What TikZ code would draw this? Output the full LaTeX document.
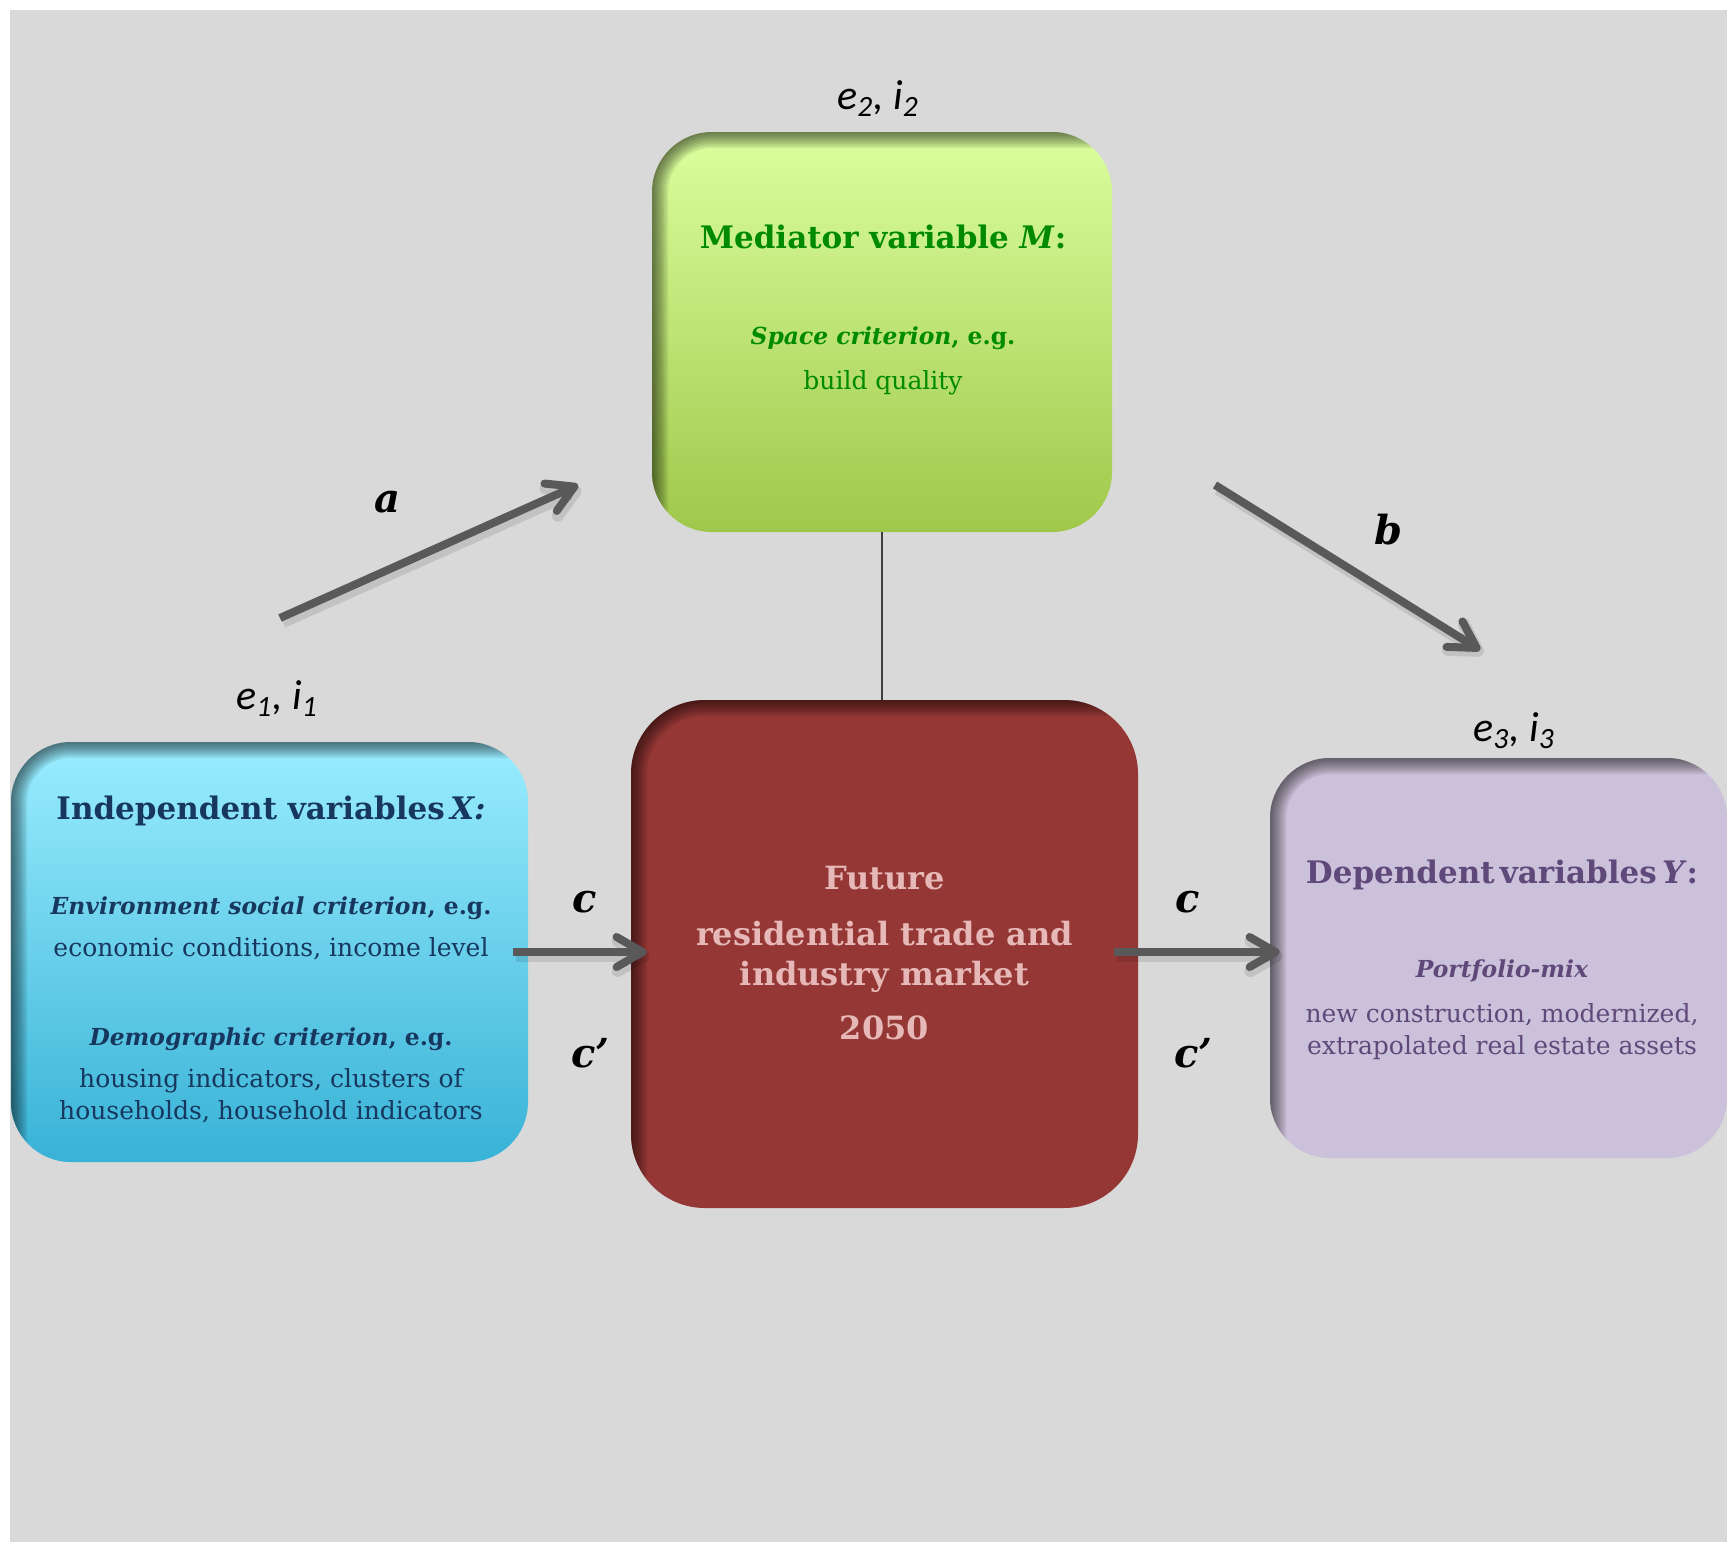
\documentclass[tikz,border=0pt]{standalone}
\usepackage{fontspec}
\setmainfont{DejaVu Serif}
\newfontfamily\calib{Carlito}
\usetikzlibrary{calc}
\usetikzlibrary{arrows.meta}

\definecolor{bgray}{HTML}{D9D9D9}
\definecolor{cyantop}{HTML}{9AEDFF}
\definecolor{cyanbot}{HTML}{38B2D6}
\definecolor{navy}{HTML}{17375E}
\definecolor{limetop}{HTML}{DBFF9E}
\definecolor{limebot}{HTML}{9FC84B}
\definecolor{leafgreen}{HTML}{008A00}
\definecolor{brick}{HTML}{953735}
\definecolor{rosetext}{HTML}{E6B9B8}
\definecolor{lilac}{HTML}{CCC1DA}
\definecolor{plum}{HTML}{5F497A}
\definecolor{arrowgray}{HTML}{595959}

\tikzset{
  box/.style={rounded corners=#1, inner sep=0pt, path picture={
      \foreach \w in {4,8,...,32}
        \draw[line width=\w*0.5pt, black, opacity=0.08, rounded corners=#1]
          (path picture bounding box.north west) rectangle
          ([shift={(300pt,-300pt)}]path picture bounding box.south east);}},
  box/.default=30pt,
  boxtext/.style={align=center, inner sep=0pt, font=\fontsize{12.5}{16}\selectfont},
  elabel/.style={inner sep=0pt, font=\calib\itshape\fontsize{21}{21}\selectfont},
  plabel/.style={inner sep=0pt, font=\fontsize{20}{20}\selectfont\bfseries\itshape},
  arr/.style={arrowgray, line width=4pt, -{Straight Barb[length=13pt,width=15pt,round]},
    preaction={draw=black, opacity=0.1, line width=6pt, transform canvas={shift={(1.5pt,-2pt)}}}}
}
\newcommand\boxtitle{\fontsize{15.5}{16}\selectfont\bfseries}
\newcommand\critline{\fontsize{11.7}{16}\selectfont\bfseries}

\begin{document}
\begin{tikzpicture}[x=0.5pt, y=-0.5pt]
\def\px{0.5pt}
\useasboundingbox (0,0) rectangle (1727,1542);
\fill[white] (0,0) rectangle (1727,1542);
\fill[bgray] (10,10) rectangle (1727,1542);

\node[box, top color=cyantop, bottom color=cyanbot, minimum width=517*\px, minimum height=420*\px] (indep) at (269.5, 952) {};
\node[box, top color=limetop, bottom color=limebot, minimum width=460*\px, minimum height=400*\px] (med) at (882, 332) {};
\node[box=37pt, fill=brick, minimum width=507*\px, minimum height=508*\px] (mkt) at (884.5, 954) {};
\node[box, fill=lilac, minimum width=457*\px, minimum height=400*\px] (dep) at (1498.5, 958) {};

\node[boxtext, text=navy] (indeptxt) at ($(indep) + (1.5, 7)$) {%
  {\boxtitle Independent variables\,\textit{X:}}\\[31.5pt]
  {\critline\textit{Environment social criterion}, e.g.}\\[5pt]
  economic conditions, income level\\[28.5pt]
  {\critline\textit{Demographic criterion}, e.g.}\\[5pt]
  housing indicators, clusters of\\
  households, household indicators};
\node[boxtext, text=leafgreen] (medtxt) at ($(med) + (1, -22)$) {%
  {\boxtitle Mediator variable \textit{M}:}\\[32pt]
  {\critline\textit{Space criterion}, e.g.}\\[6.5pt]
  build quality};
\node[boxtext, text=rosetext, font=\fontsize{16}{20}\selectfont\bfseries] (mkttxt) at ($(mkt) + (0, -1)$) {%
  Future\\[8pt]
  residential trade and\\
  industry market\\[7pt]
  2050};
\node[boxtext, text=plum] (deptxt) at ($(dep) + (3.5, 2)$) {%
  {\boxtitle Dependent\,variables\,\textit{Y}:}\\[31pt]
  {\critline\textit{Portfolio-mix}}\\[6.5pt]
  new construction, modernized,\\
  extrapolated real estate assets};

\node[elabel] (ei1) at ($(indep.north) + (7.5, -43)$) {e\textsubscript{1}, i\textsubscript{1}};
\node[elabel] (ei2) at ($(med.north) + (-4, -33)$) {e\textsubscript{2}, i\textsubscript{2}};
\node[elabel] (ei3) at ($(dep.north) + (15.5, -27)$) {e\textsubscript{3}, i\textsubscript{3}};

\coordinate (a1) at (280, 618);
\coordinate (a2) at (578, 485);
\coordinate (b1) at (1215, 485);
\coordinate (b2) at (1480, 650);
\draw[arr] (a1) -- (a2);
\draw[arr] (b1) -- (b2);
\draw[arr, shorten <=-15*\px, shorten >=-16*\px] (indep) -- (indep -| mkt.west);
\draw[arr, shorten <=-24*\px, shorten >=-10*\px] (indep -| mkt.east) -- (indep -| dep.west);
\draw[line width=1pt, black!75] (med) -- (med |- mkt.north);

\node[plabel] (la) at (387, 502) {a};
\node[plabel] (lb) at (1388, 530) {b};
\node[plabel] (lc1) at ($(mkt.west) + (-46, -52)$) {c};
\node[plabel] (lcp1) at ($(mkt.west) + (-40, 99)$) {c’};
\node[plabel] (lc2) at ($(mkt.east) + (49, -52)$) {c};
\node[plabel] (lcp2) at ($(mkt.east) + (55, 99)$) {c’};
\end{tikzpicture}
\end{document}
